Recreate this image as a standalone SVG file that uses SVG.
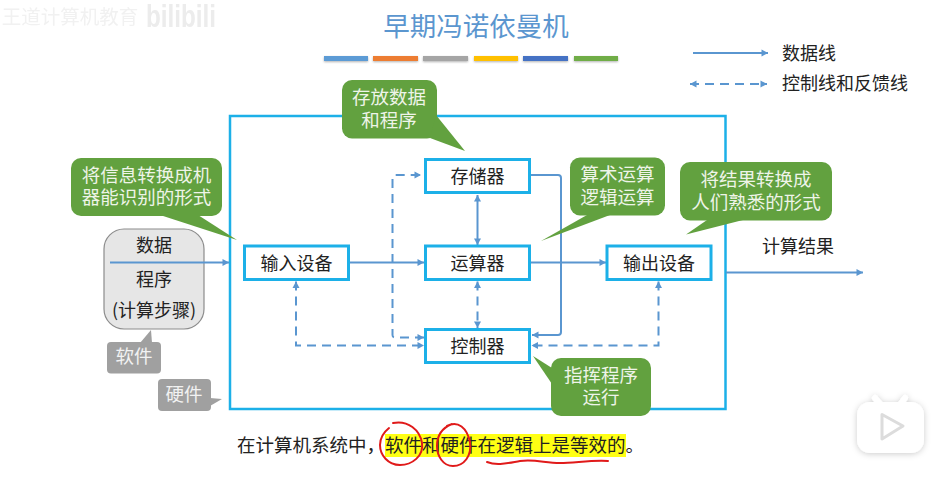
<svg xmlns="http://www.w3.org/2000/svg" width="943" height="490" viewBox="0 0 943 490">
  <style>
    text { font-family: "Noto Sans CJK SC", "Liberation Sans", sans-serif; text-anchor: middle; }
    .dark { font-size: 18px; fill: #222; }
    .legend { font-size: 18px; fill: #222; text-anchor: start; }
    .light { font-size: 18.5px; fill: #eef4e8; }
    .grey { font-size: 18.5px; fill: #f2f2f2; }
    .green { fill: #62a13f; }
    .soft { fill: #a0a0a0; }
    .box { fill: #fff; stroke: #1cb0e8; stroke-width: 3; }
    .line { fill: none; stroke: #5a96d0; stroke-width: 2; }
    .dash { stroke-dasharray: 9 6; }
    .ink { fill: none; stroke: #e01a1a; stroke-width: 2; stroke-linecap: round; }
  </style>
  <defs>
    <marker id="head" markerUnits="userSpaceOnUse" markerWidth="8" markerHeight="8" refX="7" refY="4" orient="auto-start-reverse">
      <path d="M0.5 0.5L7 4L0.5 7.5Z" fill="#5a96d0"/>
    </marker>
    <filter id="barShadow" x="-10%" y="-60%" width="120%" height="240%">
      <feDropShadow dx="0" dy="1" stdDeviation="0.8" flood-color="#000" flood-opacity="0.3"/>
    </filter>
    <filter id="iconShadow" x="-30%" y="-30%" width="160%" height="160%">
      <feDropShadow dx="0" dy="1" stdDeviation="3" flood-color="#000" flood-opacity="0.2"/>
    </filter>
    <filter id="fade" x="-5%" y="-20%" width="110%" height="140%">
      <feGaussianBlur stdDeviation="0.7"/>
    </filter>
  </defs>

  <rect width="943" height="490" fill="#fff"/>

  <g id="channel-mark" filter="url(#fade)">
    <text x="70" y="24" style="font-size:19.5px;fill:#f1f1f1">王道计算机教育</text>
    <text x="181" y="27" style="font-family:'Liberation Sans',sans-serif;font-size:31px;font-weight:bold;fill:#ececec" textLength="70" lengthAdjust="spacingAndGlyphs">bilibili</text>
  </g>

  <g id="title">
    <text x="476" y="36" style="font-size:26.5px;fill:#5b96cf">早期冯诺依曼机</text>
    <g filter="url(#barShadow)">
      <rect x="324" y="56" width="44" height="5" fill="#5b9bd5"/>
      <rect x="373" y="56" width="45" height="5" fill="#ed7d31"/>
      <rect x="423" y="56" width="45" height="5" fill="#a5a5a5"/>
      <rect x="474" y="56" width="44" height="5" fill="#ffc000"/>
      <rect x="523" y="56" width="45" height="5" fill="#4472c4"/>
      <rect x="574" y="56" width="44" height="5" fill="#70ad47"/>
    </g>
  </g>

  <g id="legend">
    <path class="line" d="M693 53H768" marker-end="url(#head)"/>
    <path class="line dash" d="M690 84H767" marker-start="url(#head)" marker-end="url(#head)"/>
    <text class="legend" x="782" y="60">数据线</text>
    <text class="legend" x="782" y="90">控制线和反馈线</text>
  </g>

  <g id="host">
    <rect x="230" y="116" width="495.500" height="293" fill="none" stroke="#1cb0e8" stroke-width="2.500"/>
  </g>

  <g id="software-input">
    <rect x="104" y="229" width="100" height="100" rx="20" fill="#e6e6e6" stroke="#8c8c8c" stroke-width="1.200"/>
    <text class="dark" x="154" y="252">数据</text>
    <text class="dark" x="154" y="286">程序</text>
    <text class="dark" x="154" y="317">(计算步骤)</text>
  </g>

  <g id="connectors">
    <path class="line" d="M110 262.500H229" marker-end="url(#head)"/>
    <path class="line" d="M349 262.500H424" marker-end="url(#head)"/>
    <path class="line" d="M530 262.500H606" marker-end="url(#head)"/>
    <path class="line" d="M726 272.500H863" marker-end="url(#head)"/>
    <path class="line" d="M530 175H558Q561 175 561 178V332Q561 335 558 335H532" marker-end="url(#head)"/>
    <path class="line" d="M477.500 195V245" marker-start="url(#head)" marker-end="url(#head)"/>
    <path class="line dash" d="M477.500 281.500V328" marker-start="url(#head)" marker-end="url(#head)"/>
    <path class="line dash" d="M424 337.500H395Q392.500 337.500 392.500 335V178Q392.500 175 395 175H421" marker-start="url(#head)" marker-end="url(#head)"/>
    <path class="line dash" d="M296 281.500V345.500H424" marker-start="url(#head)" marker-end="url(#head)"/>
    <path class="line dash" d="M658.500 281.500V345.500H531.500" marker-start="url(#head)" marker-end="url(#head)"/>
  </g>

  <g id="memory">
    <rect class="box" x="425.500" y="159.500" width="104" height="33"/>
    <text class="dark" x="477.500" y="183">存储器</text>
  </g>
  <g id="alu">
    <rect class="box" x="425.500" y="246" width="104" height="33.500"/>
    <text class="dark" x="477.500" y="269.500">运算器</text>
  </g>
  <g id="control-unit">
    <rect class="box" x="425.500" y="329.500" width="104" height="33"/>
    <text class="dark" x="477.500" y="352.500">控制器</text>
  </g>
  <g id="input-device">
    <rect class="box" x="244.500" y="246" width="104" height="33.500"/>
    <text class="dark" x="296.500" y="269.500">输入设备</text>
  </g>
  <g id="output-device">
    <rect class="box" x="607" y="246" width="104" height="33.500"/>
    <text class="dark" x="659" y="269.500">输出设备</text>
  </g>

  <g id="result-label">
    <text class="dark" x="798" y="253">计算结果</text>
  </g>

  <g id="note-input">
    <rect class="green" x="71" y="158" width="151" height="58" rx="10"/>
    <polygon class="green" points="160,215 198,215 237,240"/>
    <text class="light" x="146.500" y="182">将信息转换成机</text>
    <text class="light" x="146.500" y="204">器能识别的形式</text>
  </g>
  <g id="note-memory">
    <rect class="green" x="342" y="80" width="95" height="58.500" rx="10"/>
    <polygon class="green" points="436,115 465,151 430,138"/>
    <text class="light" x="389" y="104">存放数据</text>
    <text class="light" x="389" y="127">和程序</text>
  </g>
  <g id="note-alu">
    <rect class="green" x="570" y="157.500" width="95" height="58" rx="10"/>
    <polygon class="green" points="587,215 610,215 541,241"/>
    <text class="light" x="617.500" y="181">算术运算</text>
    <text class="light" x="617.500" y="204">逻辑运算</text>
  </g>
  <g id="note-output">
    <rect class="green" x="680" y="162" width="152" height="58.500" rx="10"/>
    <polygon class="green" points="707,220 743,220 686,234.500"/>
    <text class="light" x="756" y="186">将结果转换成</text>
    <text class="light" x="756" y="209">人们熟悉的形式</text>
  </g>
  <g id="note-control">
    <rect class="green" x="551" y="358" width="100" height="58" rx="10"/>
    <polygon class="green" points="552,368 552,384 533,356"/>
    <text class="light" x="601" y="382">指挥程序</text>
    <text class="light" x="601" y="404">运行</text>
  </g>
  <g id="tag-software">
    <rect class="soft" x="107" y="342" width="54" height="31.500" rx="4"/>
    <polygon class="soft" points="140,343 152,343 151,330"/>
    <text class="grey" x="134" y="363">软件</text>
  </g>
  <g id="tag-hardware">
    <rect class="soft" x="158" y="379" width="53" height="32" rx="4"/>
    <polygon class="soft" points="210,398 210,406 222,399"/>
    <text class="grey" x="184" y="401">硬件</text>
  </g>

  <g id="summary">
    <rect x="385" y="434" width="241" height="23" fill="#ffff14"/>
    <text x="237" y="452" style="font-size:18.5px;fill:#222;text-anchor:start">在计算机系统中，软件和硬件在逻辑上是等效的。</text>
    <path class="ink" d="M393 423C408 420 420 430 422 443C424 456 412 465 400 465C388 465 380 455 380 445C380 437 384 432 389 428"/>
    <path class="ink" d="M447 426C458 420 467 428 470 442C472 456 464 466 453 466C443 466 437 456 437 446C437 436 442 428 452 424"/>
    <path class="ink" d="M487 462C497 466 508 463 520 461C535 459 545 463 560 463C575 463 590 460 608 461"/>
  </g>

  <g id="tv-icon">
    <g filter="url(#iconShadow)" fill="#fff">
      <path d="M875 398L885 410M905 398L896 410" stroke="#fff" stroke-width="6" stroke-linecap="round"/>
      <rect x="857" y="402" width="67" height="51" rx="13"/>
    </g>
    <path d="M882 414.500L903 426L882 439Z" fill="#fff" stroke="#dcdcdc" stroke-width="3" stroke-linejoin="round"/>
  </g>
</svg>
